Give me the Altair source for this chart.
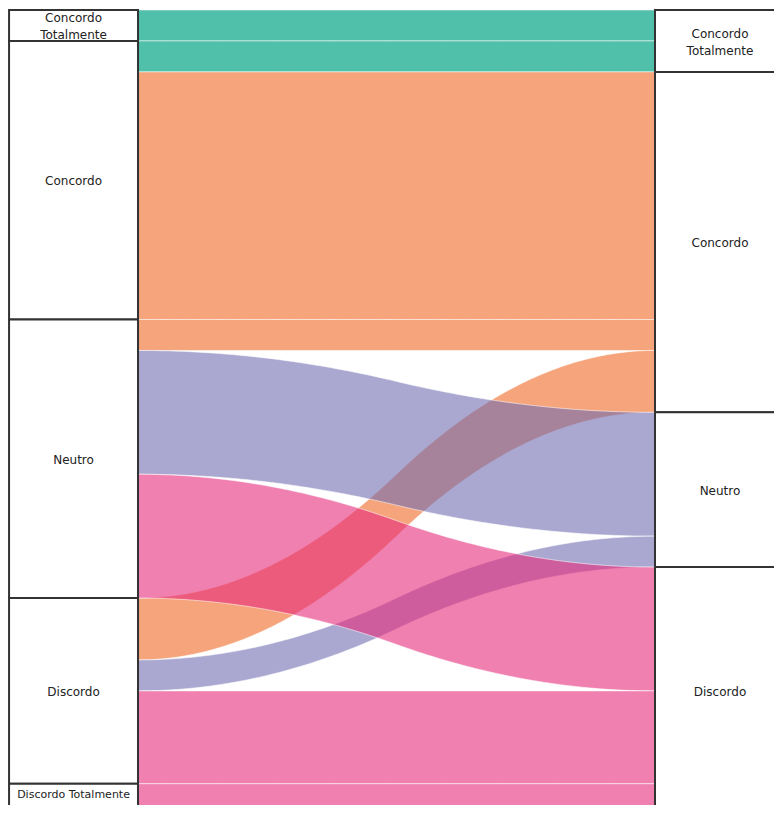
import altair as alt
import numpy as np
import pandas as pd

# ---- data ----
categories = ["Concordo Totalmente", "Concordo", "Neutro", "Discordo", "Discordo Totalmente"]
right_categories = ["Concordo Totalmente", "Concordo", "Neutro", "Discordo"]

flow_source = ["Concordo Totalmente", "Concordo", "Concordo", "Neutro", "Neutro",
               "Neutro", "Discordo", "Discordo", "Discordo", "Discordo Totalmente"]
flow_target = ["Concordo Totalmente", "Concordo Totalmente", "Concordo", "Concordo", "Neutro",
               "Discordo", "Concordo", "Neutro", "Discordo", "Discordo"]
flow_count = [1, 1, 8, 1, 4, 4, 2, 1, 3, 1]

target_colors = {"Concordo Totalmente": "#16ab8e", "Concordo": "#ee6723",
                 "Neutro": "#716eb1", "Discordo": "#e62b7b"}
target_opacity = {"Concordo Totalmente": 0.75, "Concordo": 0.6,
                  "Neutro": 0.6, "Discordo": 0.6}

# ---- stacking of flows on each side ----
n = len(flow_count)
order_idx = {c: i for i, c in enumerate(categories)}
yl = [None] * n
yr = [None] * n
pos = 0.0
for src in categories:
    idx = [i for i in range(n) if flow_source[i] == src]
    idx.sort(key=lambda i: order_idx[flow_target[i]])
    for i in idx:
        yl[i] = (pos, pos + flow_count[i])
        pos += flow_count[i]
pos = 0.0
for tgt in right_categories:
    idx = [i for i in range(n) if flow_target[i] == tgt]
    idx.sort(key=lambda i: order_idx[flow_source[i]])
    for i in idx:
        yr[i] = (pos, pos + flow_count[i])
        pos += flow_count[i]

# ribbon shape: smooth S transition between left and right stack positions
t = np.linspace(0.0, 1.0, 121)
s = np.where(t < 0.5, 2 * t * t, 1 - 2 * (1 - t) ** 2)
rows = []
for i in range(n):
    for ti, si in zip(t, s):
        rows.append({
            "fid": f"f{i}", "target": flow_target[i], "t": float(ti),
            "ytop": yl[i][0] + (yr[i][0] - yl[i][0]) * si,
            "ybot": yl[i][1] + (yr[i][1] - yl[i][1]) * si,
        })
flows_long = pd.DataFrame(rows)

# ---- scales (plot: 766 x 797 px) ----
X_MIN, X_MAX = -0.2515, 1.2302
Y_MIN, Y_MAX = -0.0646, 25.687
x_scale = alt.Scale(domain=[X_MIN, X_MAX], nice=False, zero=False)
y_scale = alt.Scale(domain=[Y_MIN, Y_MAX], reverse=True, nice=False, zero=False)
px_per_unit = 797 / (Y_MAX - Y_MIN)

box_w = 130 / 517
node_rows = []


def add_nodes(cats, totals, x0, x1):
    p = 0.0
    for c, tot in zip(cats, totals):
        vis_bottom = min(p + tot, Y_MAX)
        vis_h = (vis_bottom - p) * px_per_unit
        compact = bool(vis_h < 26 and " " in c)
        node_rows.append({
            "label": c if compact else c.replace(" ", "\n"),
            "y0": p, "y1": p + tot,
            "yc": (p + vis_bottom) / 2 if compact else p + tot / 2,
            "x0": x0, "x1": x1, "xc": (x0 + x1) / 2,
            "lines": 1 if compact else c.count(" ") + 1,
            "compact": compact,
        })
        p += tot


add_nodes(categories, [sum(v for s_, v in zip(flow_source, flow_count) if s_ == c) for c in categories],
          -box_w + 0.002, 0.0)
add_nodes(right_categories, [sum(v for t_, v in zip(flow_target, flow_count) if t_ == c) for c in right_categories],
          1.0, 1.0 + box_w)
nodes = pd.DataFrame(node_rows)

layers = []
for tgt in right_categories:
    layers.append(
        alt.Chart(flows_long[flows_long["target"] == tgt])
        .mark_area(fill=target_colors[tgt], fillOpacity=target_opacity[tgt],
                   stroke="white", strokeWidth=1, strokeOpacity=0.55, clip=True)
        .encode(
            x=alt.X("t:Q", scale=x_scale, axis=None),
            y=alt.Y("ytop:Q", scale=y_scale, axis=None, stack=None),
            y2="ybot:Q",
            detail="fid:N",
        )
    )

boxes = alt.Chart(nodes).mark_rect(fill="white", stroke="#333333", strokeWidth=2, clip=True).encode(
    x=alt.X("x0:Q", scale=x_scale, axis=None),
    x2="x1:Q",
    y=alt.Y("y0:Q", scale=y_scale, axis=None),
    y2="y1:Q",
)

enc = dict(
    x=alt.X("xc:Q", scale=x_scale, axis=None),
    y=alt.Y("yc:Q", scale=y_scale, axis=None),
    text="label:N",
)
labels_one = alt.Chart(nodes).transform_filter("datum.lines == 1 && !datum.compact").mark_text(
    font="DejaVu Sans", fontSize=12, color="#222222", align="center", baseline="middle", dy=1,
).encode(**enc)
labels_two = alt.Chart(nodes).transform_filter("datum.lines == 2").mark_text(
    font="DejaVu Sans", fontSize=12, lineBreak="\n", lineHeight=17, color="#222222",
    align="center", baseline="middle", dy=-7,
).encode(**enc)
labels_compact = alt.Chart(nodes).transform_filter("datum.compact").mark_text(
    font="DejaVu Sans", fontSize=11, color="#222222", align="center", baseline="middle", dy=1,
).encode(**enc)

chart = alt.layer(*layers, boxes, labels_one, labels_two, labels_compact).properties(
    width=766, height=797, padding=0, autosize=alt.AutoSizeParams(type="none"),
    background="white",
).configure_view(stroke=None)

chart.save("out.html", embed_options={"renderer": "svg", "actions": False})
